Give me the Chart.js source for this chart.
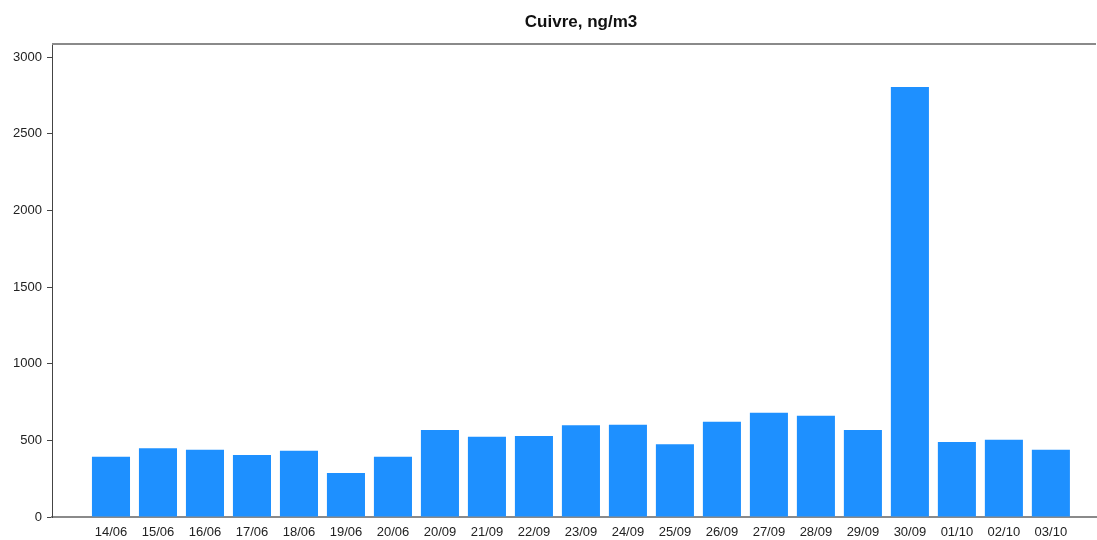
<!DOCTYPE html>
<html>
<head>
<meta charset="utf-8">
<script src="https://cdn.jsdelivr.net/npm/chart.js@4/dist/chart.umd.min.js"></script>
<style>
  html, body { margin: 0; padding: 0; background: #fff; }
  #wrap { width: 1097px; height: 540px; position: relative; }
</style>
</head>
<body>
<div id="wrap"><canvas id="c"></canvas></div>
<script>
// Daily copper concentrations (ng/m3)
const dates = ['14/06','15/06','16/06','17/06','18/06','19/06','20/06',
               '20/09','21/09','22/09','23/09','24/09','25/09','26/09',
               '27/09','28/09','29/09','30/09','01/10','02/10','03/10'];
const cuivre = [393, 448, 439, 404, 432, 287, 393,
                567, 524, 528, 598, 602, 474, 622,
                680, 661, 567, 2805, 489, 504, 439];
const yTicks = [0, 500, 1000, 1500, 2000, 2500, 3000];
const chartTitle = 'Cuivre, ng/m3';

const FONT = '"Liberation Sans", Arial, sans-serif';

// Title text and the grey frame line along the top of the plot
const framePlugin = {
  id: 'frame',
  afterDraw(chart) {
    const { ctx, chartArea } = chart;
    ctx.save();
    ctx.strokeStyle = '#8a8a8a';
    ctx.lineWidth = 2;
    ctx.beginPath();
    ctx.moveTo(chartArea.left, chartArea.top);
    ctx.lineTo(chartArea.right, chartArea.top);
    ctx.stroke();
    ctx.fillStyle = '#111';
    ctx.font = 'bold 17px ' + FONT;
    ctx.textAlign = 'center';
    ctx.textBaseline = 'middle';
    ctx.fillText(chartTitle, 581, 22);
    ctx.restore();
  }
};

new Chart(document.getElementById('c'), {
  type: 'bar',
  data: {
    datasets: [{
      data: cuivre.map((v, i) => ({ x: i, y: v })),
      backgroundColor: '#1e90ff',
      borderWidth: 0,
      categoryPercentage: 1,
      barPercentage: 0.81
    }]
  },
  options: {
    responsive: true,
    maintainAspectRatio: false,
    animation: false,
    layout: { padding: { top: 44, right: 1, left: 0, bottom: 0 } },
    plugins: {
      legend: { display: false },
      title: { display: false },
      tooltip: { enabled: false }
    },
    scales: {
      x: {
        type: 'linear',
        min: -1.255,
        max: 20.96,
        offset: false,
        afterBuildTicks(scale) { scale.ticks = dates.map((_, i) => ({ value: i })); },
        afterFit(scale) { scale.height = 23; },
        grid: { display: false },
        border: { display: true, color: '#8a8a8a', width: 2 },
        ticks: {
          autoSkip: false,
          maxRotation: 0,
          padding: 0,
          color: '#222',
          font: { family: FONT, size: 13 },
          callback: (v) => dates[v] ?? ''
        }
      },
      y: {
        min: 0,
        max: 3085,
        afterBuildTicks(scale) { scale.ticks = yTicks.map(v => ({ value: v })); },
        afterFit(scale) { scale.width = 52; },
        grid: { drawOnChartArea: false, drawTicks: true, tickLength: 5, color: '#444' },
        border: { display: true, color: '#444', width: 1 },
        ticks: {
          padding: 5,
          color: '#222',
          font: { family: FONT, size: 13 },
          callback: (v) => String(v)
        }
      }
    }
  },
  plugins: [framePlugin]
});
</script>
</body>
</html>
